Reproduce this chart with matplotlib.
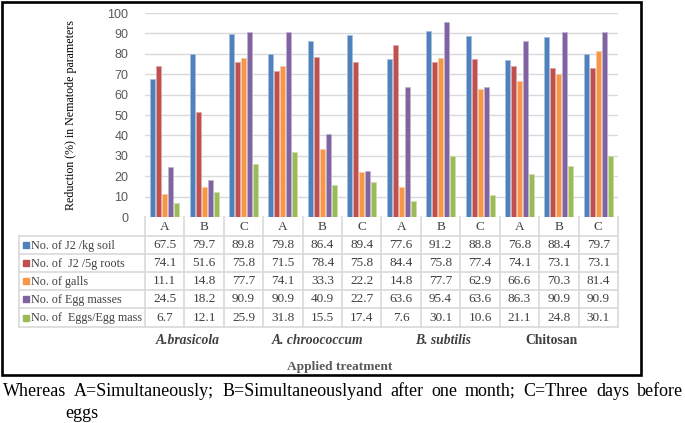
import numpy as np
import matplotlib
matplotlib.use('Agg')
import matplotlib.pyplot as plt
from matplotlib.patches import Rectangle

# Data
timings = ['A', 'B', 'C'] * 4
treatments = ['A.brasicola', 'A. chroococcum', 'B. subtilis', 'Chitosan']
series_names = ['No. of J2 /kg soil', 'No. of  J2 /5g roots', 'No. of galls',
                'No. of Egg masses', 'No. of  Eggs/Egg mass']
j2_soil = [67.5, 79.7, 89.8, 79.8, 86.4, 89.4, 77.6, 91.2, 88.8, 76.8, 88.4, 79.7]
j2_roots = [74.1, 51.6, 75.8, 71.5, 78.4, 75.8, 84.4, 75.8, 77.4, 74.1, 73.1, 73.1]
galls = [11.1, 14.8, 77.7, 74.1, 33.3, 22.2, 14.8, 77.7, 62.9, 66.6, 70.3, 81.4]
egg_masses = [24.5, 18.2, 90.9, 90.9, 40.9, 22.7, 63.6, 95.4, 63.6, 86.3, 90.9, 90.9]
eggs_per_mass = [6.7, 12.1, 25.9, 31.8, 15.5, 17.4, 7.6, 30.1, 10.6, 21.1, 24.8, 30.1]
series = [j2_soil, j2_roots, galls, egg_masses, eggs_per_mass]
colors = ['#4F81BD', '#C0504D', '#F79646', '#8064A2', '#9BBB59']
edge_colors = ['#A7C0DE', '#E0A8A6', '#FBCBA3', '#C0B2D1', '#CDDDAC']

caption = ('Whereas A=Simultaneously; B=Simultaneouslyand after one month; '
           'C=Three days before')
caption2 = 'eggs'

W, H = 685, 423
fig = plt.figure(figsize=(W / 100, H / 100), dpi=100)

# plot area in pixels
x_left, x_right = 145, 618
y_top, y_bot = 13, 217
ax = fig.add_axes([x_left / W, 1 - y_bot / H, (x_right - x_left) / W, (y_bot - y_top) / H])

n = len(timings)
x = np.arange(n)
pitch = 0.152
bw = 0.127
for k, vals in enumerate(series):
    ax.bar(x + (k - 2) * pitch, vals, width=bw, color=colors[k],
           edgecolor=edge_colors[k], linewidth=0.6, zorder=3)

ax.set_xlim(-0.5, n - 0.5)
ax.set_ylim(0, 100)
ax.set_yticks(np.arange(0, 101, 10))
ax.set_xticks([])
ax.grid(axis='y', color='#D9D9D9', linewidth=1.0, zorder=0)
for s in ax.spines.values():
    s.set_visible(False)
ax.tick_params(axis='y', length=0, pad=12, labelsize=9, labelcolor='#595959')
for t in ax.get_yticklabels():
    t.set_fontfamily('Liberation Sans')

# overlay in pixel coordinates for table, labels and frame
ov = fig.add_axes([0, 0, 1, 1])
ov.set_xlim(0, W)
ov.set_ylim(H, 0)
ov.axis('off')
ov.patch.set_visible(False)

serif = 'Liberation Serif'
tcol = '#404040'
lc = '#D9D9D9'
colw = (x_right - x_left) / n
row_y = [236, 254, 272, 290, 308, 327]
lab_left = 19

# table grid
for i in range(n + 1):
    xb = x_left + i * colw
    ov.plot([xb, xb], [y_bot, row_y[-1]], color=lc, lw=1.2)
ov.plot([lab_left, lab_left], [row_y[0], row_y[-1]], color=lc, lw=1.2)
for yb in row_y:
    ov.plot([lab_left, x_right], [yb, yb], color=lc, lw=1.2)

# header row
for i, lab in enumerate(timings):
    ov.text(x_left + (i + 0.5) * colw, (y_bot + row_y[0]) / 2 + 1, lab,
            ha='center', va='center', fontsize=9.5, family=serif, color=tcol)

# data rows
for r, (name, vals) in enumerate(zip(series_names, series)):
    yc = (row_y[r] + row_y[r + 1]) / 2 + 0.5
    ov.add_patch(Rectangle((23, yc - 3), 6, 6, color=colors[r]))
    ov.text(31, yc, name, ha='left', va='center', fontsize=8.7, family=serif, color=tcol)
    for i, v in enumerate(vals):
        ov.text(x_left + (i + 0.5) * colw, yc, f'{v:.1f}', ha='center', va='center',
                fontsize=9.5, family=serif, color=tcol)

# treatment group labels
group_x = [188, 318, 443, 552]
for gx, name in zip(group_x, treatments):
    style = 'normal' if name == 'Chitosan' else 'italic'
    ov.text(gx, 340, name, ha='center', va='center', fontsize=9.8, family=serif,
            fontweight='bold', fontstyle=style, color=tcol)

ov.text(340, 367, 'Applied treatment', ha='center', va='center', fontsize=9.6,
        family=serif, fontweight='bold', color='#595959')
# y axis label
ov.text(71, (y_top + y_bot) / 2, 'Reduction (%) in Nematode parameters', rotation=90,
        ha='center', va='center', fontsize=8.6, family=serif, color='black')

# frame
ov.add_patch(Rectangle((2, 2), 639, 373, fill=False, edgecolor='black', lw=1.9))

# justified caption line
renderer = fig.canvas.get_renderer()
words = caption.split(' ')
tx = []
total = 0
for wd in words:
    t = ov.text(0, 391, wd, ha='left', va='center', fontsize=13, family=serif, color='black')
    wpx = t.get_window_extent(renderer).width
    tx.append((t, wpx))
    total += wpx
gap = (683 - 3 - total) / (len(words) - 1)
cx = 3
for t, wpx in tx:
    t.set_x(cx)
    cx += wpx + gap
ov.text(65, 413, caption2, ha='left', va='center', fontsize=13, family=serif, color='black')

fig.savefig('out.png', dpi=100)
